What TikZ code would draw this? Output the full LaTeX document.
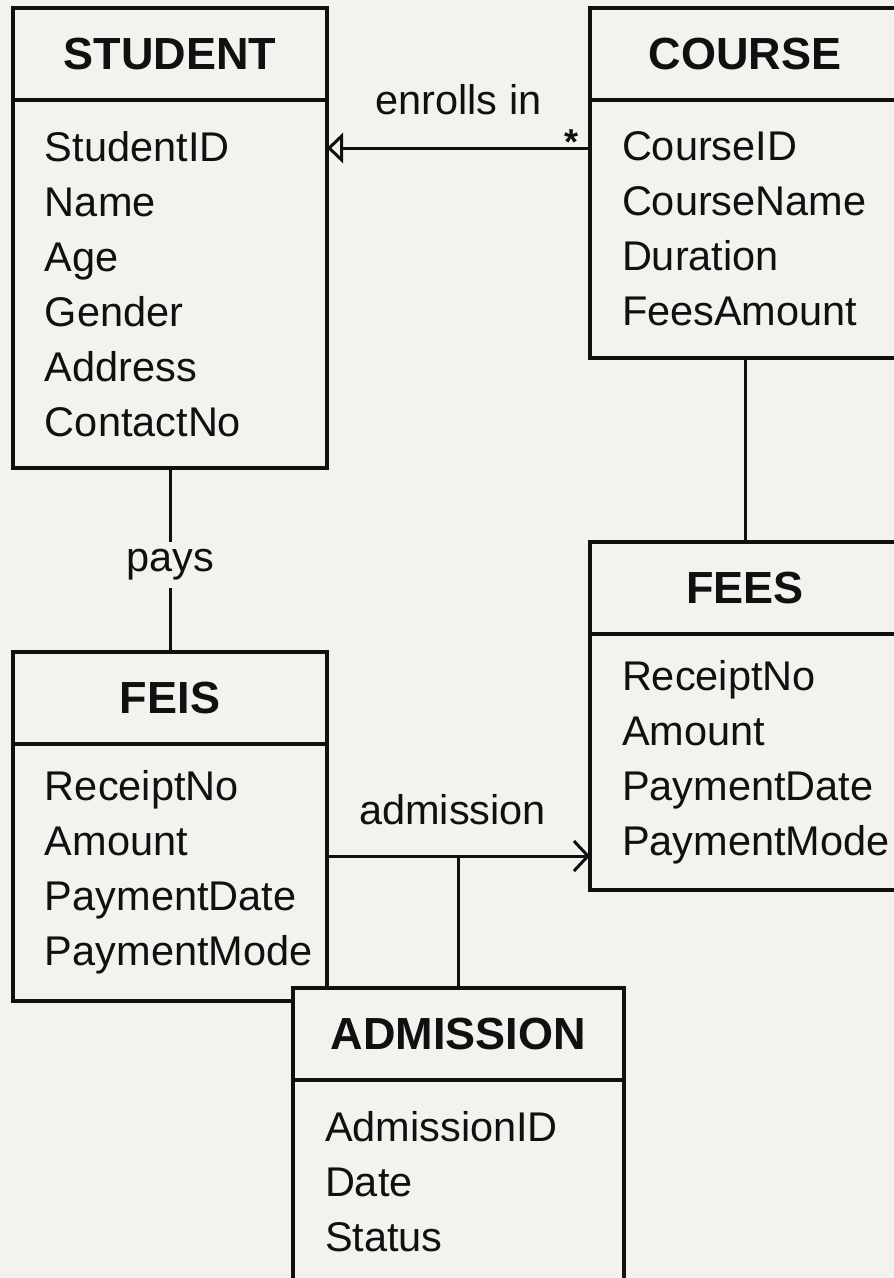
\documentclass[tikz,border=0pt]{standalone}
\usepackage{fontspec}
\setmainfont{Liberation Sans}
\usetikzlibrary{arrows.meta,positioning}
\definecolor{Paper}{HTML}{F3F2EE}
\definecolor{Ink}{HTML}{101010}

\begin{document}
\begin{tikzpicture}[x=1pt,y=-1pt,
  every node/.style={text=Ink,font=\fontsize{41.5}{55}\selectfont},
  ent/.style={draw=Ink,line width=3.5pt,fill=Paper,outer sep=0pt,inner sep=0pt,minimum height=92pt,minimum width=#1,font=\fontsize{45}{55}\selectfont\bfseries},
  attrs/.style 2 args={draw=Ink,line width=3.5pt,fill=Paper,outer sep=0pt,inner xsep=32pt,inner ysep=0pt,align=left,text width=#1,minimum height=#2},
  conn/.style={draw=Ink,line width=3pt}]
  \useasboundingbox (0,0) rectangle (894,1278);
  \fill[Paper] (0,0) rectangle (894,1278);

  % entities
  \node[ent=314pt] (student) at (170,54) {STUDENT};
  \node[attrs={250pt}{368pt},below=0pt of student] (studentattrs) {StudentID\\Name\\Age\\Gender\\Address\\ContactNo};

  \node[ent=310pt] (course) at (745,54) {COURSE};
  \node[attrs={246pt}{258pt},below=0pt of course] (courseattrs) {CourseID\\CourseName\\Duration\\FeesAmount};

  \node[ent=310pt] (fees) at (745,588) {FEES};
  \node[attrs={246pt}{256pt},below=0pt of fees] (feesattrs) {ReceiptNo\\Amount\\PaymentDate\\PaymentMode};

  \node[ent=314pt] (feis) at (170,698) {FEIS};
  \node[attrs={250pt}{257pt},below=0pt of feis] (feisattrs) {ReceiptNo\\Amount\\PaymentDate\\PaymentMode};

  \node[ent=331pt] (admission) at (458.5,1034) {ADMISSION};
  \node[attrs={267pt}{204pt},below=0pt of admission] (admissionattrs) {AdmissionID\\Date\\Status};

  % relations
  \coordinate (enrollsend) at ([yshift=-48pt]courseattrs.north west);
  \draw[conn,-{Triangle[open,length=16pt,width=30pt]}] (enrollsend)
    -- node[pos=0.07,yshift=6pt,font=\fontsize{36}{36}\selectfont\bfseries] (many) {*}
       node[midway,above=32pt,inner sep=0pt] (enrollslabel) {enrolls in}
    (enrollsend -| studentattrs.east);

  \draw[conn] (studentattrs.south) -- node[fill=Paper,inner sep=8pt,yshift=-5pt] (pays) {pays} (feis.north);
  \draw[conn] (courseattrs.south) -- (fees.north);

  \coordinate (admstart) at ([yshift=-112pt]feisattrs.north east);
  \draw[conn,-{Straight Barb[length=14pt,width=30pt]}] (admstart)
    -- node[midway,above=30pt,inner sep=0pt,xshift=-6pt] (admlabel) {admission}
    (admstart -| feesattrs.west);
  \draw[conn] (admission.north) -- (admission.north |- admstart);
\end{tikzpicture}
\end{document}
